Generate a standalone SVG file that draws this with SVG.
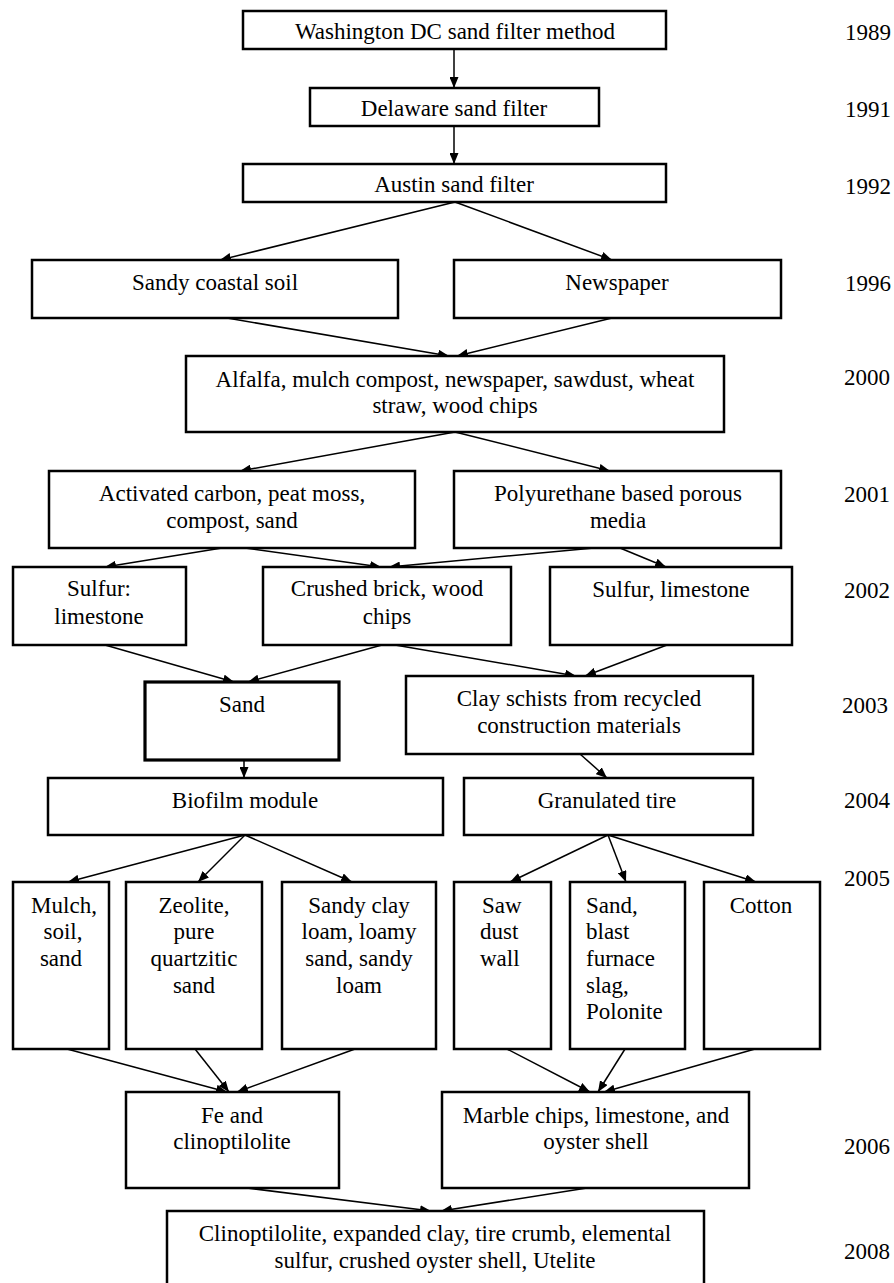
<svg xmlns="http://www.w3.org/2000/svg" width="894" height="1283" viewBox="0 0 894 1283">
<style>
.box{fill:#fff;stroke:#000;stroke-width:2.5}
.thick{stroke-width:3.2}
text{font-family:'Liberation Serif','Times New Roman',Times,'Nimbus Roman','DejaVu Serif',serif;font-size:23px;fill:#000}
.t{text-anchor:middle}
.l{text-anchor:start}
.c line{stroke:#000;stroke-width:1.5;marker-end:url(#ah)}
</style>
<defs>
<marker id="ah" markerUnits="userSpaceOnUse" markerWidth="11" markerHeight="9" refX="11" refY="4.5" orient="auto">
<path d="M0,0 L11,4.5 L0,9 z" fill="#000"/>
</marker>
</defs>
<rect width="894" height="1283" fill="#fff"/>

<g id="connectors" class="c">
<line x1="454" y1="49" x2="454" y2="88"/>
<line x1="454" y1="126" x2="454" y2="164"/>
<line x1="455" y1="202" x2="220" y2="260"/>
<line x1="455" y1="202" x2="612" y2="260"/>
<line x1="227" y1="318" x2="449" y2="356"/>
<line x1="612" y1="318" x2="457" y2="356"/>
<line x1="455" y1="432" x2="240" y2="471"/>
<line x1="455" y1="432" x2="610" y2="471"/>
<line x1="222" y1="548" x2="105" y2="567"/>
<line x1="245" y1="548" x2="381" y2="567"/>
<line x1="594" y1="548" x2="389" y2="567"/>
<line x1="620" y1="548" x2="666" y2="567"/>
<line x1="105" y1="645" x2="234" y2="682"/>
<line x1="382" y1="645" x2="248" y2="682"/>
<line x1="395" y1="645" x2="576" y2="676"/>
<line x1="667" y1="645" x2="585" y2="676"/>
<line x1="244" y1="760" x2="244" y2="778"/>
<line x1="580" y1="754" x2="607" y2="778"/>
<line x1="245" y1="835" x2="68" y2="882"/>
<line x1="245" y1="835" x2="198" y2="882"/>
<line x1="245" y1="835" x2="352" y2="882"/>
<line x1="608" y1="835" x2="510" y2="882"/>
<line x1="608" y1="835" x2="626" y2="882"/>
<line x1="608" y1="835" x2="756" y2="882"/>
<line x1="67" y1="1049" x2="227" y2="1092"/>
<line x1="195" y1="1049" x2="229" y2="1092"/>
<line x1="355" y1="1049" x2="237" y2="1092"/>
<line x1="507" y1="1049" x2="590" y2="1092"/>
<line x1="625" y1="1049" x2="598" y2="1092"/>
<line x1="755" y1="1049" x2="604" y2="1092"/>
<line x1="247" y1="1188" x2="431" y2="1211"/>
<line x1="587" y1="1188" x2="441" y2="1211"/>
</g>

<g id="n1989"><rect class="box" x="243" y="11" width="423" height="38"/><text class="t" x="455" y="39">Washington DC sand filter method</text></g>
<g id="n1991"><rect class="box" x="310" y="88" width="289" height="38"/><text class="t" x="454" y="116">Delaware sand filter</text></g>
<g id="n1992"><rect class="box" x="243" y="164" width="423" height="38"/><text class="t" x="454" y="192">Austin sand filter</text></g>
<g id="nSandyCoastal"><rect class="box" x="32" y="260" width="366" height="58"/><text class="t" x="215" y="290">Sandy coastal soil</text></g>
<g id="nNewspaper"><rect class="box" x="454" y="260" width="327" height="58"/><text class="t" x="617" y="290">Newspaper</text></g>
<g id="nAlfalfa"><rect class="box" x="186" y="356" width="538" height="76"/><text class="t" x="455" y="387">Alfalfa, mulch compost, newspaper, sawdust, wheat</text><text class="t" x="455" y="413">straw, wood chips</text></g>
<g id="nActivated"><rect class="box" x="49" y="471" width="366" height="77"/><text class="t" x="232" y="501">Activated carbon, peat moss,</text><text class="t" x="232" y="528">compost, sand</text></g>
<g id="nPolyurethane"><rect class="box" x="454" y="471" width="327" height="77"/><text class="t" x="618" y="501">Polyurethane based porous</text><text class="t" x="618" y="528">media</text></g>
<g id="nSulfurColon"><rect class="box" x="13" y="567" width="173" height="78"/><text class="t" x="99" y="596">Sulfur:</text><text class="t" x="99" y="624">limestone</text></g>
<g id="nCrushed"><rect class="box" x="263" y="567" width="248" height="78"/><text class="t" x="387" y="596">Crushed brick, wood</text><text class="t" x="387" y="624">chips</text></g>
<g id="nSulfurComma"><rect class="box" x="550" y="567" width="242" height="78"/><text class="t" x="671" y="597">Sulfur, limestone</text></g>
<g id="nSand"><rect class="box thick" x="145" y="682" width="194" height="78"/><text class="t" x="242" y="712">Sand</text></g>
<g id="nClay"><rect class="box" x="406" y="676" width="347" height="78"/><text class="t" x="579" y="706">Clay schists from recycled</text><text class="t" x="579" y="733">construction materials</text></g>
<g id="nBiofilm"><rect class="box" x="48" y="778" width="395" height="57"/><text class="t" x="245" y="808">Biofilm module</text></g>
<g id="nGranulated"><rect class="box" x="464" y="778" width="289" height="57"/><text class="t" x="607" y="808">Granulated tire</text></g>
<g id="nMulch"><rect class="box" x="13" y="882" width="96" height="167"/><text class="t" x="64" y="913">Mulch,</text><text class="t" x="63" y="939">soil,</text><text class="t" x="61" y="966">sand</text></g>
<g id="nZeolite"><rect class="box" x="126" y="882" width="136" height="167"/><text class="t" x="194" y="913">Zeolite,</text><text class="t" x="194" y="939">pure</text><text class="t" x="194" y="966">quartzitic</text><text class="t" x="194" y="993">sand</text></g>
<g id="nSandyClay"><rect class="box" x="282" y="882" width="154" height="167"/><text class="t" x="359" y="913">Sandy clay</text><text class="t" x="359" y="939">loam, loamy</text><text class="t" x="359" y="966">sand, sandy</text><text class="t" x="359" y="993">loam</text></g>
<g id="nSawDust"><rect class="box" x="454" y="882" width="97" height="167"/><text class="t l" x="482" y="913">Saw</text><text class="t l" x="480" y="939">dust</text><text class="t l" x="480" y="966">wall</text></g>
<g id="nSandBlast"><rect class="box" x="570" y="882" width="115" height="167"/><text class="t l" x="586" y="913">Sand,</text><text class="t l" x="586" y="939">blast</text><text class="t l" x="586" y="966">furnace</text><text class="t l" x="586" y="993">slag,</text><text class="t l" x="586" y="1019">Polonite</text></g>
<g id="nCotton"><rect class="box" x="704" y="882" width="116" height="167"/><text class="t" x="761" y="913">Cotton</text></g>
<g id="nFe"><rect class="box" x="126" y="1092" width="213" height="96"/><text class="t" x="232" y="1123">Fe and</text><text class="t" x="232" y="1149">clinoptilolite</text></g>
<g id="nMarble"><rect class="box" x="442" y="1092" width="307" height="96"/><text class="t" x="596" y="1123">Marble chips, limestone, and</text><text class="t" x="596" y="1149">oyster shell</text></g>
<g id="nFinal"><rect class="box" x="167" y="1211" width="537" height="90"/><text class="t" x="435" y="1241">Clinoptilolite, expanded clay, tire crumb, elemental</text><text class="t" x="435" y="1268">sulfur, crushed oyster shell, Utelite</text></g>

<g id="years">
<text x="845" y="40">1989</text>
<text x="845" y="117">1991</text>
<text x="845" y="194">1992</text>
<text x="845" y="291">1996</text>
<text x="844" y="385">2000</text>
<text x="844" y="502">2001</text>
<text x="844" y="598">2002</text>
<text x="842" y="713">2003</text>
<text x="844" y="808">2004</text>
<text x="844" y="886">2005</text>
<text x="844" y="1154">2006</text>
<text x="844" y="1259">2008</text>
</g>
</svg>
